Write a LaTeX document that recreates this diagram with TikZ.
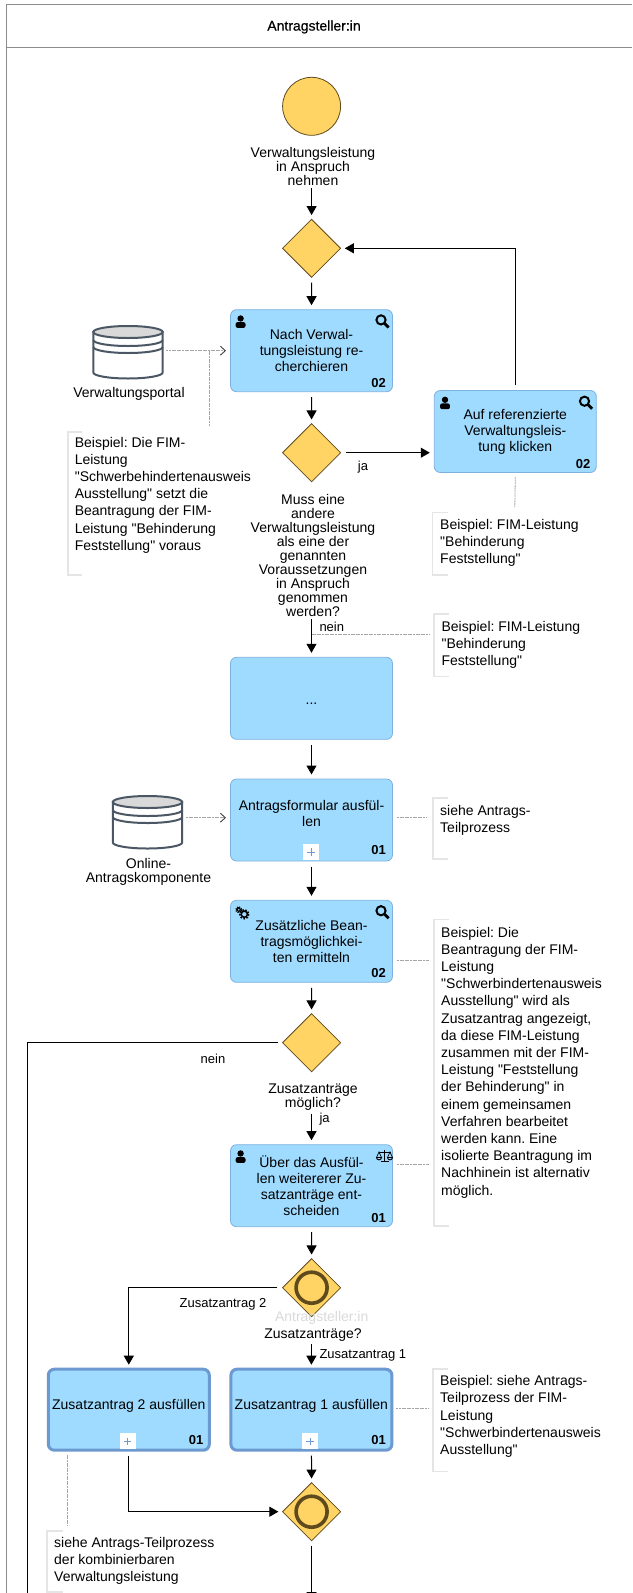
\documentclass[tikz,border=0pt]{standalone}
\usepackage{fontspec}
\setmainfont{Liberation Sans}[Ligatures=TeXOff]
\newfontface\headfont{Liberation Sans}[FakeBold=0.5,Ligatures=TeXOff]
\usetikzlibrary{arrows.meta,shapes.geometric}
\pgfdeclarelayer{bg}
\pgfsetlayers{bg,main}
\AtBeginDocument{\frenchspacing}
\definecolor{taskblue}{HTML}{9FDBFF}
\definecolor{taskline}{HTML}{7DB1E0}
\definecolor{taskthick}{HTML}{6C9AD0}
\definecolor{gateyellow}{HTML}{FFD364}
\definecolor{gateline}{HTML}{5E4A1C}
\definecolor{dbline}{HTML}{4B5764}
\tikzset{
    every node/.style={inner sep=0mm, align=center, font=\fontsize{14}{14}\selectfont},
    lbl/.style={outer sep=2pt},
    small/.style={font=\fontsize{13}{13}\selectfont},
    num/.style={font=\fontsize{13}{13}\selectfont\bfseries},
    note/.style={anchor=west, align=left, font=\fontsize{14}{17.2}\selectfont},
    task/.style={draw=taskline, fill=taskblue, thick, rounded corners=6pt, minimum width=162pt, minimum height=82pt, outer sep=4.5pt, font=\fontsize{14}{16}\selectfont, execute at begin node={\rule{0pt}{12.5pt}}},
    subtask/.style={task, draw=taskthick, line width=3pt, minimum width=161pt, minimum height=81pt},
    gate/.style={diamond, aspect=1, draw=gateline, line width=.8pt, fill=gateyellow, minimum width=60.5pt, minimum height=60.5pt, outer sep=3pt},
    startev/.style={circle, draw=gateline, line width=.8pt, fill=gateyellow, minimum size=58pt},
    dbbox/.style={minimum width=69.5pt, minimum height=53pt, outer sep=3.7pt},
    flow/.style={-{Triangle[length=9pt,width=10pt]}, black, line width=1pt, shorten <=1pt},
    seqline/.style={black, line width=1pt},
    assoc/.style={draw=black!35, line width=.8pt, dash pattern=on 2pt off .6pt},
    assocto/.style={assoc, -{Straight Barb[length=5pt,width=9pt,black!75,line width=.9pt]}},
    bracket/.style={draw=black!10, line width=1.6pt},
    usericon/.pic={
        \fill (0,-3.2) circle (3.2);
        \fill [rounded corners=2pt] (-4.9,6.2) -- (-4.9,.4) -- (4.9,.4) -- (4.9,6.2) -- cycle;
    },
    lensicon/.pic={
        \draw [line width=2pt] (-2,-1.8) circle (4.6);
        \draw [line width=2.8pt] (1.4,1.6) -- (5.6,5.8);
    },
    gearicon/.pic={
        \draw [line width=1.5pt] (2,1.5) circle (3.1);
        \draw [line width=1.6pt, dash pattern=on 1.6pt off 1.5pt] (2,1.5) circle (4.5);
        \draw [line width=1.1pt] (-3.6,-3) circle (1.9);
        \draw [line width=1.2pt, dash pattern=on 1.2pt off 1.1pt] (-3.6,-3) circle (2.9);
    },
    scaleicon/.pic={
        \draw [line width=.7pt] (0,-6) -- (0,5.5) (-4,5.8) -- (4,5.8) (-6,-4) -- (6,-4);
        \draw [line width=.7pt] (-8,1.5) -- (-5.5,-4) -- (-3,1.5) (3,1.5) -- (5.5,-4) -- (8,1.5);
        \draw [line width=.9pt] (-8,1.5) arc (180:360:2.5 and -2.4) -- cycle;
        \draw [line width=.9pt] (3,1.5) arc (180:360:2.5 and -2.4) -- cycle;
    },
    plusicon/.pic={
        \fill [white] (-8,-8) rectangle (8,8);
        \draw [taskthick, line width=.8pt] (-3.6,0) -- (3.6,0) (0,-3.6) -- (0,3.6);
    },
    dbicon/.pic={
        \draw [dbline, fill=white, line width=2pt] (-34.7,-20) -- (-34.7,20.5) arc (180:360:34.7 and -6) -- (34.7,-20) -- cycle;
        \draw [dbline, fill=black!15, line width=2pt] (0,-20) ellipse (34.7 and 6);
        \draw [dbline, line width=2pt] (-34.7,-12) arc (180:360:34.7 and -6);
        \draw [dbline, line width=2pt] (-34.7,-5) arc (180:360:34.7 and -6);
    }
}

\begin{document}
\begin{tikzpicture}[x=1pt, y=-1pt]
        \useasboundingbox (0,0) rectangle (632,1593);
        \node (head) at (314,27) {\headfont Antragsteller:in};
        \node (e0) [startev] at (311.6,106.3) {};
        \node (l0) [lbl] at (313,166) {Verwaltungsleistung\\in Anspruch\\nehmen};
        \node (g1) [gate] at (311.6,248.3) {};
        \node (t1) [task] at (311.5,350.7) {Nach Verwal-\\tungsleistung re-\\cherchieren};
        \node (db1) [dbbox] at (128,352) {};
        \pic at (db1) {dbicon};
        \node (l1) at (129,394) {Verwaltungsportal};
        \node (a1) [note] at (74.6,495) {Beispiel: Die FIM-\\Leistung\\"Schwerbehindertenausweis\\Ausstellung" setzt die\\Beantragung der FIM-\\Leistung "Behinderung\\Feststellung" voraus};
        \node (t2) [task] at (515.3,431.5) {Auf referenzierte\\Verwaltungsleis-\\tung klicken};
        \node (g2) [gate] at (311.6,452.7) {};
        \node (l2) [lbl] at (313,555) {Muss eine\\andere\\Verwaltungsleistung\\als eine der\\genannten\\Voraussetzungen\\in Anspruch\\genommen\\werden?};
        \node (ja1) [small] at (363,467) {ja};
        \node (nein1) [small, anchor=west] at (319.3,627) {nein};
        \node (a2) [note] at (440,543) {Beispiel: FIM-Leistung\\"Behinderung\\Feststellung"};
        \node (a3) [note] at (441.4,645) {Beispiel: FIM-Leistung\\"Behinderung\\Feststellung"};
        \node (t3) [task] at (311.5,698.3) {...};
        \node (t4) [task] at (311.5,820) {Antragsformular ausfül-\\len\\[-3.7pt]};
        \node (db2) [dbbox] at (147.5,822) {};
        \pic at (db2) {dbicon};
        \node (l4) at (148.5,871.5) {Online-\\Antragskomponente};
        \node (a4) [note] at (440,820.5) {siehe Antrags-\\Teilprozess};
        \node (t5) [task] at (311.5,941.3) {Zusätzliche Bean-\\tragsmöglichkei-\\ten ermitteln};
        \node (a5) [note] at (441,1062.5) {Beispiel: Die\\Beantragung der FIM-\\Leistung\\"Schwerbindertenausweis\\Ausstellung" wird als\\Zusatzantrag angezeigt,\\da diese FIM-Leistung\\zusammen mit der FIM-\\Leistung "Feststellung\\der Behinderung" in\\einem gemeinsamen\\Verfahren bearbeitet\\werden kann. Eine\\isolierte Beantragung im\\Nachhinein ist alternativ\\möglich.};
        \node (g3) [gate] at (311.6,1042.7) {};
        \node (nein2) [small] at (213,1058.7) {nein};
        \node (l5) [lbl] at (313,1097.3) {Zusatzanträge\\möglich?};
        \node (ja2) [small, anchor=west] at (319.3,1119) {ja};
        \node (t6) [task] at (311.5,1185.7) {Über das Ausfül-\\len weitererer Zu-\\satzanträge ent-\\scheiden};
        \node (g4) [gate] at (311.6,1287.7) {};
        \draw [gateline, line width=3.6pt] (g4) circle (15.5);
        \node (l6) [text=black!15] at (321.7,1318) {Antragsteller:in};
        \node (l7) [lbl] at (313,1334.7) {Zusatzanträge?};
        \node (za2) [small] at (223,1304) {Zusatzantrag 2};
        \node (za1) [small, anchor=west] at (319.3,1355.7) {Zusatzantrag 1};
        \node (t7) [subtask] at (311.4,1409.7) {Zusatzantrag 1 ausfüllen\\[-5pt]};
        \node (t8) [subtask] at (128.8,1409.7) {Zusatzantrag 2 ausfüllen\\[-5pt]};
        \node (a6) [note] at (440,1416.5) {Beispiel: siehe Antrags-\\Teilprozess der FIM-\\Leistung\\"Schwerbindertenausweis\\Ausstellung"};
        \node (g5) [gate] at (311.6,1511.7) {};
        \draw [gateline, line width=3.6pt] (g5) circle (15.5);
        \node (a7) [note] at (54,1561) {siehe Antrags-Teilprozess\\der kombinierbaren\\Verwaltungsleistung};
        % task markers
        \pic at (240.6,321.7) {usericon};
        \pic at (383,321.7) {lensicon};
        \node (n1) [num] at (378.6,382.7) {02};
        \pic at (445,403) {usericon};
        \pic at (586.5,403) {lensicon};
        \node (n2) [num] at (583,463.7) {02};
        \pic at (311,852) {plusicon};
        \node (n4) [num] at (378.6,850) {01};
        \pic at (242.3,912.7) {gearicon};
        \pic at (383,912.5) {lensicon};
        \node (n5) [num] at (378.6,973.3) {02};
        \pic at (240.6,1156.7) {usericon};
        \pic at (384.5,1156) {scaleicon};
        \node (n6) [num] at (378.6,1218) {01};
        \pic at (310,1441.3) {plusicon};
        \node (n7) [num] at (378.6,1439.7) {01};
        \pic at (127.6,1441.3) {plusicon};
        \node (n8) [num] at (196,1439.7) {01};
        % free ends
        \coordinate (c1) at (209.7,426);
        \coordinate (c2) at (514.8,507);
        \coordinate (c3) at (428.6,634.7);
        \coordinate (c4) at (186,817.7);
        \coordinate (c5) at (427.4,817.7);
        \coordinate (c6) at (428.6,960.7);
        \coordinate (c7) at (428.6,1164.3);
        \coordinate (c8) at (427.7,1408);
        \coordinate (c9) at (67.7,1525.7);
        \coordinate (c10) at (27,1600);
        \coordinate (c11) at (311.6,1601);
        \begin{pgfonlayer}{bg}
                \draw [black!45] (632,4.5) -- (6.5,4.5) -- (6.5,1600);
                \draw [black!45] (6.5,47.5) -- (632,47.5);
                \draw [bracket] (82,431.7) -| (67.7,575) -- (82,575);
                \draw [bracket] (447.5,512.3) -| (432.5,575) -- (447.5,575);
                \draw [bracket] (448.5,613.7) -| (433.7,676.3) -- (448.5,676.3);
                \draw [bracket] (447.5,798) -| (433,858.7) -- (447.5,858.7);
                \draw [bracket] (448.7,919.3) -| (433.7,1225.7) -- (448.7,1225.7);
                \draw [bracket] (447.5,1368.7) -| (433,1471.3) -- (447.5,1471.3);
                \draw [bracket] (62.5,1531) -| (46.8,1592) -- (62.5,1592);
                \draw [flow] (g1 |- l0.south) -- (g1);
                \draw [flow] (g1) -- (t1);
                \draw [flow] (t1) -- (g2);
                \draw [flow] (g2.east) -- (g2.east -| t2.west);
                \draw [flow] (t2.north) |- (g1.east);
                \draw [flow] (t3 |- l2.south) -- (t3);
                \draw [flow] (t3) -- (t4);
                \draw [flow] (t4) -- (t5);
                \draw [flow] (t5) -- (g3);
                \draw [seqline] (g3.west) -| (c10);
                \draw [flow] (t6 |- l5.south) -- (t6);
                \draw [flow] (t6) -- (g4);
                \draw [flow] (g4.west) -| (t8.north);
                \draw [flow] (t7 |- l7.south) -- (t7);
                \draw [flow] (t7) -- (g5);
                \draw [flow] (t8.south) |- (g5.west);
                \draw [flow] (g5) -- (c11);
                \draw [assocto] (db1.east |- t1.west) -- (t1.west);
                \draw [assoc] (c1 |- t1.west) -- (c1);
                \draw [assoc] (t2.south) -- (c2);
                \draw [assoc] (c3 -| t3) -- (c3);
                \draw [assocto] (c4) -- (c4 -| t4.west);
                \draw [assoc] (c5 -| t4.east) -- (c5);
                \draw [assoc] (c6 -| t5.east) -- (c6);
                \draw [assoc] (c7 -| t6.east) -- (c7);
                \draw [assoc] (c8 -| t7.east) -- (c8);
                \draw [assoc] (c9 |- t8.south) -- (c9);
        \end{pgfonlayer}
\end{tikzpicture}
\end{document}
